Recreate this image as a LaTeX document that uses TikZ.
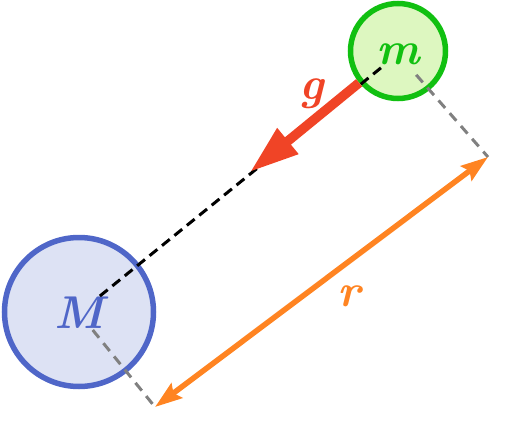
\documentclass[tikz,border=0pt]{standalone}
\usetikzlibrary{arrows.meta}
\definecolor{massblue}{RGB}{79,102,200}
\definecolor{massbluefill}{RGB}{221,226,244}
\definecolor{massgreen}{RGB}{17,192,17}
\definecolor{massgreenfill}{RGB}{221,247,192}
\definecolor{forcered}{RGB}{240,68,38}
\definecolor{distorange}{RGB}{255,132,34}
\begin{document}
\begin{tikzpicture}[x=1pt,y=-1pt,
        ball/.style={circle,draw,line width=5.5pt,inner sep=0pt},
        lbl/.style={inner sep=1pt,font=\fontsize{46}{46}\selectfont\bfseries\itshape},
        guide/.style={line width=3pt,dash pattern=on 10pt off 7pt}]
    \useasboundingbox(0,0)rectangle(520,439);
    \node[ball,draw=massblue,fill=massbluefill,minimum size=149pt](Mball)at(79,312){};
    \node[ball,draw=massgreen,fill=massgreenfill,minimum size=95pt](mball)at(398,51){};
    \node[lbl,text=massblue](Mlbl)at(79,313){M};
    \node[lbl,text=massgreen](mlbl)at(398,54){m};
    \coordinate(Mfoot)at(155,407);
    \coordinate(mfoot)at(488,157);
    \coordinate(gtip)at(250,172);
    \draw[guide,black,dash pattern=on 10pt off 6pt](Mlbl)--(mlbl);
    \draw[guide,gray](Mlbl)--(Mfoot);
    \draw[guide,gray,shorten <=12pt](mlbl)--(mfoot);
    \draw[forcered,line width=9.5pt,-{Triangle[length=49pt,width=31pt]}](mball)--(gtip);
    \draw[distorange,line width=5.5pt,{Stealth[length=27pt,width=18pt,inset=4pt]}-{Stealth[length=27pt,width=18pt,inset=4pt]}](Mfoot)--(mfoot);
    \node[lbl,text=forcered](glbl)at(312,94){g};
    \node[lbl,text=distorange](rlbl)at(349,296){r};
\end{tikzpicture}
\end{document}
